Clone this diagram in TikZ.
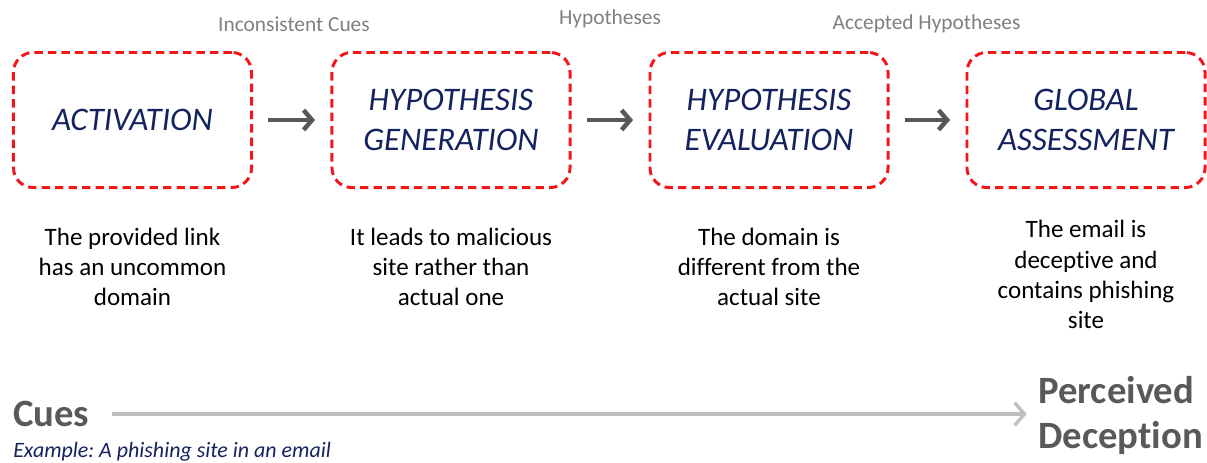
\documentclass[tikz,border=0pt]{standalone}
\usepackage{fontspec}
\setmainfont{Carlito}[Ligatures=NoCommon]
\usetikzlibrary{positioning, arrows.meta, calc}

\definecolor{navy}{HTML}{14225F}
\definecolor{boxred}{HTML}{F2161B}
\definecolor{darkgray}{HTML}{595959}
\definecolor{midgray}{HTML}{7F7F7F}
\definecolor{lightgray}{HTML}{BFBFBF}

\frenchspacing

\begin{document}
\begin{tikzpicture}[
    x=0.025cm, y=-0.025cm,
    stage/.style={rectangle, draw=boxred, line width=2.1pt, dash pattern=on 6pt off 3.6pt, rounded corners=14pt, minimum width=5.95cm, minimum height=3.375cm, align=center, text=navy, font=\fontsize{23.4}{28.5}\selectfont\itshape},
    note/.style={align=center, font=\fontsize{17.8}{21.4}\selectfont},
    tag/.style={text=midgray, font=\fontsize{15.2}{18}\selectfont},
    flow/.style={draw=darkgray, line width=3.2pt, -{Straight Barb[length=6pt, width=14pt]}, shorten <=11pt, shorten >=11pt},
    big/.style={inner sep=0pt, text=darkgray, align=left, font=\fontsize{27.5}{32}\selectfont\bfseries}
]
    \useasboundingbox (0,0) rectangle (1207,462);

    % Stages
    \node[stage] (act) at (132.5,120) {ACTIVATION};
    \node[stage] (gen) at (451,120) {HYPOTHESIS\\GENERATION};
    \node[stage] (eval) at (769,120) {HYPOTHESIS\\EVALUATION};
    \node[stage] (glob) at (1086,120) {GLOBAL\\ASSESSMENT};

    % Arrows between stages
    \draw[flow] (act) -- (gen);
    \draw[flow] (gen) -- (eval);
    \draw[flow] (eval) -- (glob);

    % What passes along
    \node[tag] at (294,24) {Inconsistent Cues};
    \node[tag] at (610,19) {Hypotheses};
    \node[tag] at (926.5,24) {Accepted Hypotheses};

    % Example under each stage
    \node[note] (actnote) at (132.5,267) {The provided link\\has an uncommon\\domain};
    \node[note] (gennote) at (451,267) {It leads to malicious\\site rather than\\actual one};
    \node[note] (evalnote) at (769,267) {The domain is\\different from the\\actual site};
    \node[note] (globnote) at (1086,274.5) {The email is\\deceptive and\\contains phishing\\site};

    % Cues to perceived deception
    \node[big, anchor=west] (cues) at (13,414) {Cues};
    \node[big, anchor=west] (dec) at (1038,415.5) {Perceived\\Deception};
    \node[anchor=north west, inner sep=0pt, text=navy, font=\fontsize{15.6}{18}\selectfont\itshape] (ex) at (13,442) {Example: A phishing site in an email};
    \draw[draw=lightgray, line width=2.4pt, -{Straight Barb[length=7pt, width=16pt]}, shorten <=16pt, shorten >=8pt] (cues.east) -- (cues.east -| dec.west);
\end{tikzpicture}
\end{document}
